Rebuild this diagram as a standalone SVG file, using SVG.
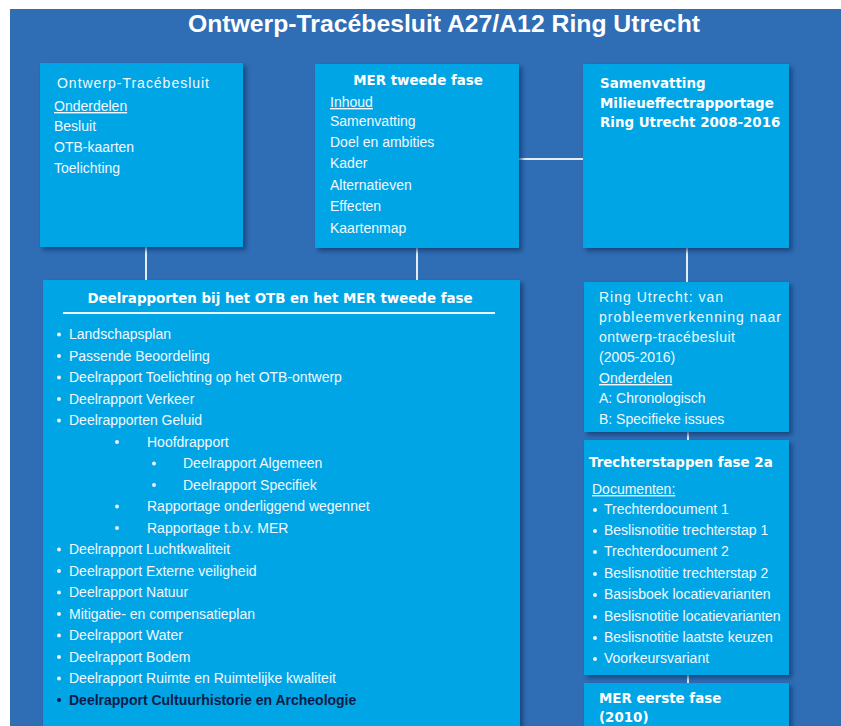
<svg xmlns="http://www.w3.org/2000/svg" width="841" height="726" viewBox="0 0 841 726">
  <defs>
    <filter id="sh" x="-10%" y="-10%" width="130%" height="130%">
      <feDropShadow dx="3" dy="3" stdDeviation="2" flood-color="#123a6b" flood-opacity="0.75"/>
    </filter>
    <style>
      .box { fill: #05A5E5; filter: url(#sh); }
      .t { font-family: "Liberation Sans", Arial, sans-serif; font-size: 14px; fill: #F2F8FF; }
      .b { font-family: "DejaVu Sans", Verdana, sans-serif; font-weight: bold; font-size: 13.4px; fill: #FFFFFF; }
      .u { text-decoration: underline; }
      .dk { font-family: "Liberation Sans", Arial, sans-serif; font-weight: bold; font-size: 14px; fill: #0B1C48; }
      .dot { fill: #EAF4FF; }
      .con line { stroke: #E3EEF8; stroke-width: 2; }
      .title { font-family: "Liberation Sans", Arial, sans-serif; font-weight: bold; font-size: 23px; fill: #FFFFFF; }
    </style>
  </defs>

  <rect x="0" y="0" width="841" height="726" fill="#FFFFFF"/>
  <rect x="10" y="9" width="831" height="717" fill="#2F6DB5"/>

  <text class="title" x="188" y="32" textLength="512" lengthAdjust="spacingAndGlyphs">Ontwerp-Tracébesluit A27/A12 Ring Utrecht</text>

  <g id="connectors" class="con">
    <line x1="146" y1="247" x2="146" y2="280"/>
    <line x1="417" y1="248" x2="417" y2="280"/>
    <line x1="519" y1="159" x2="583" y2="159"/>
    <line x1="687" y1="248" x2="687" y2="282"/>
    <line x1="688" y1="432" x2="688" y2="440"/>
    <line x1="688" y1="675" x2="688" y2="683"/>
  </g>

  <g id="otb">
    <rect class="box" x="40" y="63" width="203" height="184"/>
    <text class="t" x="57" y="88" textLength="152">Ontwerp-Tracébesluit</text>
    <text class="t u" x="54" y="111">Onderdelen</text>
    <text class="t" x="54" y="131">Besluit</text>
    <text class="t" x="54" y="152">OTB-kaarten</text>
    <text class="t" x="54" y="173">Toelichting</text>
  </g>

  <g id="mer2">
    <rect class="box" x="315" y="64" width="204" height="184"/>
    <text class="b" x="418" y="85" text-anchor="middle">MER tweede fase</text>
    <text class="t u" x="330" y="107">Inhoud</text>
    <text class="t" x="330" y="126">Samenvatting</text>
    <text class="t" x="330" y="147">Doel en ambities</text>
    <text class="t" x="330" y="168">Kader</text>
    <text class="t" x="330" y="190">Alternatieven</text>
    <text class="t" x="330" y="211">Effecten</text>
    <text class="t" x="330" y="233">Kaartenmap</text>
  </g>

  <g id="samenvatting">
    <rect class="box" x="583" y="64" width="206" height="184"/>
    <text class="b" x="600" y="88">Samenvatting</text>
    <text class="b" x="600" y="108">Milieueffectrapportage</text>
    <text class="b" x="600" y="127">Ring Utrecht 2008-2016</text>
  </g>

  <g id="deelrapporten">
    <rect class="box" x="43" y="280" width="477" height="470"/>
    <text class="b" x="280" y="303" text-anchor="middle">Deelrapporten bij het OTB en het MER tweede fase</text>
    <line x1="63" y1="313" x2="495" y2="313" stroke="#EAF4FF" stroke-width="2"/>
    <g class="dot">
      <circle cx="59" cy="334.5" r="2"/>
      <circle cx="59" cy="356" r="2"/>
      <circle cx="59" cy="377.5" r="2"/>
      <circle cx="59" cy="399" r="2"/>
      <circle cx="59" cy="420.5" r="2"/>
      <circle cx="117" cy="442" r="2"/>
      <circle cx="154" cy="463.5" r="2"/>
      <circle cx="154" cy="485" r="2"/>
      <circle cx="117" cy="506.5" r="2"/>
      <circle cx="117" cy="528" r="2"/>
      <circle cx="59" cy="549.5" r="2"/>
      <circle cx="59" cy="571" r="2"/>
      <circle cx="59" cy="592.5" r="2"/>
      <circle cx="59" cy="614" r="2"/>
      <circle cx="59" cy="635.5" r="2"/>
      <circle cx="59" cy="657" r="2"/>
      <circle cx="59" cy="678.5" r="2"/>
    </g>
    <circle cx="59" cy="700" r="2" fill="#0B1C48"/>
    <text class="t" x="69" y="339">Landschapsplan</text>
    <text class="t" x="69" y="360.5">Passende Beoordeling</text>
    <text class="t" x="69" y="382">Deelrapport Toelichting op het OTB-ontwerp</text>
    <text class="t" x="69" y="403.5">Deelrapport Verkeer</text>
    <text class="t" x="69" y="425">Deelrapporten Geluid</text>
    <text class="t" x="147" y="446.5">Hoofdrapport</text>
    <text class="t" x="183" y="468">Deelrapport Algemeen</text>
    <text class="t" x="183" y="489.5">Deelrapport Specifiek</text>
    <text class="t" x="147" y="511">Rapportage onderliggend wegennet</text>
    <text class="t" x="147" y="532.5">Rapportage t.b.v. MER</text>
    <text class="t" x="69" y="554">Deelrapport Luchtkwaliteit</text>
    <text class="t" x="69" y="575.5">Deelrapport Externe veiligheid</text>
    <text class="t" x="69" y="597">Deelrapport Natuur</text>
    <text class="t" x="69" y="618.5">Mitigatie- en compensatieplan</text>
    <text class="t" x="69" y="640">Deelrapport Water</text>
    <text class="t" x="69" y="661.5">Deelrapport Bodem</text>
    <text class="t" x="69" y="683">Deelrapport Ruimte en Ruimtelijke kwaliteit</text>
    <text class="dk" x="69" y="704.5">Deelrapport Cultuurhistorie en Archeologie</text>
  </g>

  <g id="ringutrecht">
    <rect class="box" x="584" y="282" width="205" height="150"/>
    <text class="t" x="599" y="302" textLength="124">Ring Utrecht: van</text>
    <text class="t" x="599" y="322" textLength="182">probleemverkenning naar</text>
    <text class="t" x="599" y="342" textLength="136">ontwerp-tracébesluit</text>
    <text class="t" x="599" y="362">(2005-2016)</text>
    <text class="t u" x="599" y="383">Onderdelen</text>
    <text class="t" x="599" y="403">A: Chronologisch</text>
    <text class="t" x="599" y="424">B: Specifieke issues</text>
  </g>

  <g id="trechterstappen">
    <rect class="box" x="584" y="440" width="205" height="235"/>
    <text class="b" x="589" y="467">Trechterstappen fase 2a</text>
    <text class="t u" x="592" y="494">Documenten:</text>
    <g class="dot">
      <circle cx="595" cy="510" r="2"/>
      <circle cx="595" cy="531" r="2"/>
      <circle cx="595" cy="552" r="2"/>
      <circle cx="595" cy="574" r="2"/>
      <circle cx="595" cy="595" r="2"/>
      <circle cx="595" cy="617" r="2"/>
      <circle cx="595" cy="638" r="2"/>
      <circle cx="595" cy="659" r="2"/>
    </g>
    <text class="t" x="604" y="514">Trechterdocument 1</text>
    <text class="t" x="604" y="535">Beslisnotitie trechterstap 1</text>
    <text class="t" x="604" y="556">Trechterdocument 2</text>
    <text class="t" x="604" y="578">Beslisnotitie trechterstap 2</text>
    <text class="t" x="604" y="599">Basisboek locatievarianten</text>
    <text class="t" x="604" y="621">Beslisnotitie locatievarianten</text>
    <text class="t" x="604" y="642">Beslisnotitie laatste keuzen</text>
    <text class="t" x="604" y="663">Voorkeursvariant</text>
  </g>

  <g id="mer1">
    <rect class="box" x="584" y="683" width="205" height="70"/>
    <text class="b" x="599" y="703">MER eerste fase</text>
    <text class="b" x="599" y="722">(2010)</text>
  </g>
</svg>
